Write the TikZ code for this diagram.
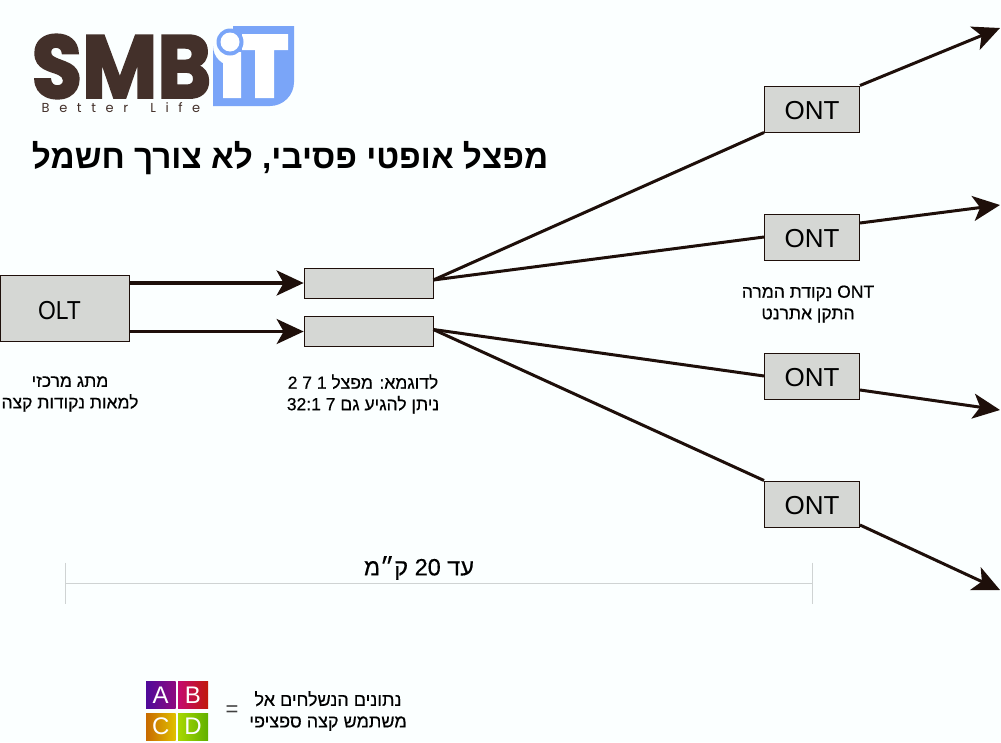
\documentclass[tikz,border=0pt]{standalone}
\usepackage{fontspec}
\usetikzlibrary{arrows.meta,calc}
\TeXXeTstate=1
\setmainfont{Liberation Sans}
\newfontfamily\heb[Script=Hebrew,FakeBold=0.4]{Liberation Sans}
\newfontfamily\hebt[Script=Hebrew]{Liberation Sans}
\newfontfamily\logofont[BoldFeatures={FakeBold=2.5}]{Poppins}
\newfontfamily\tagfont[LetterSpace=74]{Poppins}
\newcommand{\rl}[1]{\leavevmode\beginR #1\endR}
\newcommand{\lr}[1]{\beginL #1\endL{}}
\newcommand{\lowered}[1]{\raisebox{-1.2pt}[\height][0pt]{#1}}
\definecolor{bgc}{HTML}{FBFFFF}
\definecolor{boxc}{HTML}{D5D7D4}
\definecolor{inkc}{HTML}{1E0F0A}
\definecolor{logob}{HTML}{43302A}
\definecolor{logoi}{HTML}{7AA5F8}
\definecolor{dimc}{HTML}{CFD3D3}
\definecolor{a1}{HTML}{4F0A9A}\definecolor{a2}{HTML}{8E0A80}
\definecolor{b1}{HTML}{C40A70}\definecolor{b2}{HTML}{C01A0A}
\definecolor{c1}{HTML}{C86A00}\definecolor{c2}{HTML}{E0C000}
\definecolor{d1}{HTML}{A8D800}\definecolor{d2}{HTML}{60B000}
\tikzset{
  x=1pt,y=-1pt,
  unit/.style={draw=inkc,line width=1pt,fill=boxc,minimum width=95pt,minimum height=46pt,inner sep=0pt,font=\fontsize{26}{26}\selectfont,anchor=center},
  splitbox/.style={draw=inkc,line width=.7pt,fill=boxc,minimum width=129pt,minimum height=30pt,inner sep=0pt},
  captext/.style={align=center,inner sep=0pt,font=\heb\fontsize{17.5}{21.5}\selectfont,text=black},
  fibre/.style={draw=inkc,line width=3pt},
  fibrearrow/.style={fibre,-{Stealth[length=27pt,width=25pt,inset=7pt]}},
  dimline/.style={draw=dimc,line width=1pt},
  sw/.style={inner sep=0pt,minimum width=29.5pt,minimum height=28pt,text=white,font=\fontsize{24}{24}\selectfont}
}
\begin{document}
\begin{tikzpicture}
\useasboundingbox (0,0) rectangle (1001,742);
\fill[bgc] (0,0) rectangle (1001,742);

% logo
\fill[logoi] (233,26) -- (294,26) -- (294,82) arc[start angle=0,end angle=90,radius=24] -- (213,106) -- (213,46) arc[start angle=180,end angle=90,radius=20] -- cycle;
\fill[white] (242,34) rectangle (288,50) (255,50) rectangle (274,98) (223,52) rectangle (241,98);
\fill[logoi] (230,42) circle[radius=13.5];
\fill[white] (230,42) circle[radius=9.5];
\node[inner sep=0pt,text=logob] (smb) at (121.5,66.5) {\scalebox{.92}[1]{\logofont\bfseries\fontsize{89}{89}\selectfont SMB}};
\node[inner sep=0pt,text=logob] (tag) at (121,108) {\tagfont\fontsize{13}{13}\selectfont Better\hspace{9pt} Life};

% title
\node[inner sep=0pt,font=\hebt\bfseries\fontsize{33.3}{33.3}\selectfont] (title) at (290,158) {\rl{מפצל אופטי פסיבי, לא צורך חשמל}};

% equipment
\node[unit,minimum width=129pt,minimum height=66pt] (olt) at (65,308) {\hspace{-11pt}\raisebox{-2pt}[\height][0pt]{\scalebox{.88}[1]{OLT}}};
\node[splitbox] (s1) at (368.5,283) {};
\node[splitbox] (s2) at (368.5,331.5) {};
\node[unit] (ont1) at (812,109) {\lowered{ONT}};
\node[unit] (ont2) at (812,237) {\lowered{ONT}};
\node[unit] (ont3) at (812,376) {\lowered{ONT}};
\node[unit] (ont4) at (812,504) {\lowered{ONT}};

\coordinate (t1) at (1000,28);
\coordinate (t2) at (1000,205);
\coordinate (t3) at (1000,410);
\coordinate (t4) at (1000,590);
\coordinate (x2) at (860,223);
\coordinate (x3) at (860,390);
\coordinate (x4) at (860,525);

% fibres
\draw[fibrearrow,line width=4pt] (olt.east |- s1.west) -- (s1.west);
\draw[fibrearrow] (olt.east |- s2.west) -- (s2.west);
\draw[fibre] (s1.east) ++(0,-3) -- (ont1.south west);
\draw[fibre] (s1.east) ++(0,-3) -- (ont2.west);
\draw[fibre] (s2.east) ++(0,-2) -- (ont3.west);
\draw[fibre] (s2.east) ++(0,-2) -- (ont4.north west);
\draw[fibrearrow] (ont1.north east) -- (t1);
\draw[fibrearrow] (x2) -- (t2);
\draw[fibrearrow] (x3) -- (t3);
\draw[fibrearrow] (x4) -- (t4);

% captions
\node[captext] (capolt) at (70,394) {\rl{מתג מרכזי}\\\rl{למאות נקודות קצה}};
\node[captext] (capsplit) at (363,394) {\rl{לדוגמא: מפצל \lr{1} \lr{7} \lr{2}}\\\rl{ניתן להגיע גם \lr{7} \lr{32:1}}};
\node[captext] (capont) at (808,304) {\rl{\lr{ONT} נקודת המרה}\\\rl{התקן אתרנט}};

% distance
\coordinate (d1) at (65,583.5);
\coordinate (d2) at (812,583.5);
\draw[dimline] (d1) -- (d2);
\draw[dimline] ($(d1)+(0,-21)$) -- ($(d1)+(0,20)$);
\draw[dimline] ($(d2)+(0,-21)$) -- ($(d2)+(0,20)$);
\node[inner sep=0pt,font=\heb\fontsize{23.5}{23.5}\selectfont] (dist) at (419,568) {\rl{עד \lr{20} ק״מ}};

% legend
\shade[left color=a1,right color=a2] (146,681) rectangle (175.5,708.5);
\node[sw] (a) at (160.75,694.75) {A};
\shade[left color=b1,right color=b2] (178,681) rectangle (208,708.5);
\node[sw] (b) at (193,694.75) {B};
\shade[left color=c1,right color=c2] (146,713) rectangle (175.5,740);
\node[sw] (c) at (160.75,726.5) {C};
\shade[left color=d1,right color=d2] (178,713) rectangle (208,740);
\node[sw] (d) at (193,726.5) {D};
\node[inner sep=0pt,font=\fontsize{22}{22}\selectfont,text=black!75] (eq) at (232,711) {=};
\node[captext,font=\heb\fontsize{18}{21.5}\selectfont] (capleg) at (328,711) {\rl{נתונים הנשלחים אל}\\\rl{משתמש קצה ספציפי}};
\end{tikzpicture}
\end{document}
